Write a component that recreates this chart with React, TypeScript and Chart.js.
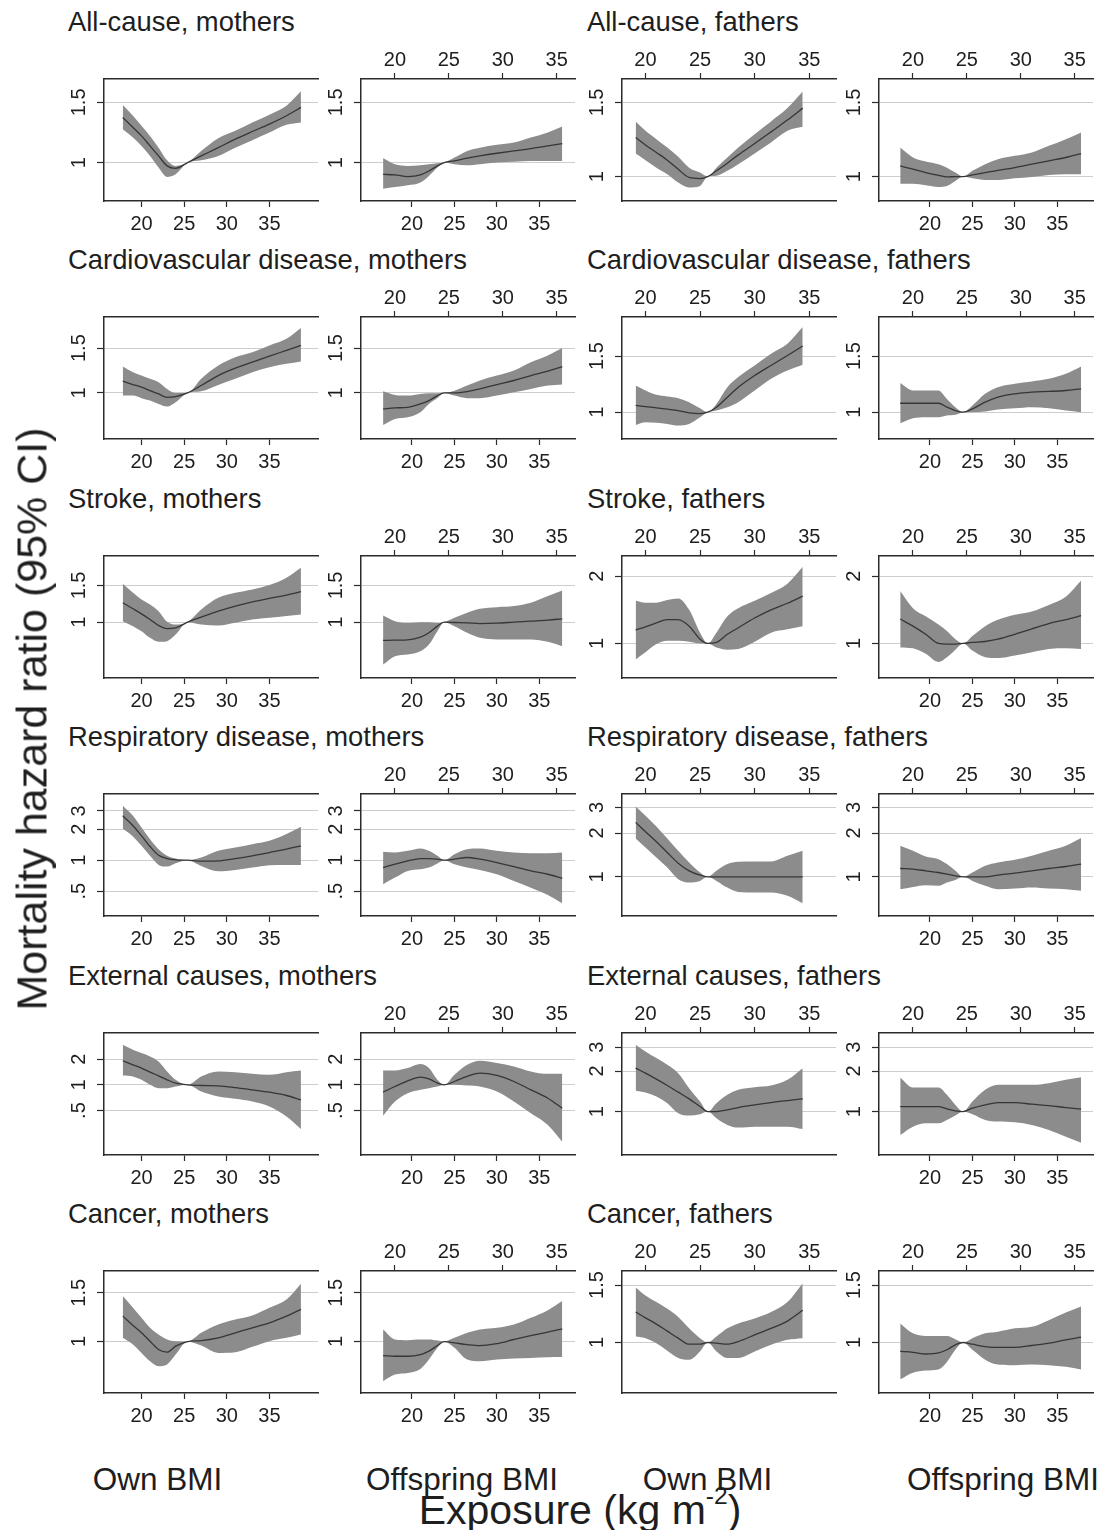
import React, { useEffect, useRef } from "react";
import { Chart, registerables } from "chart.js";

Chart.register(...registerables);

const FONT = '"Liberation Sans", Arial, Helvetica, sans-serif';
const TEXT = "#1e1e1e";
const AXIS = "#2b2b2b";
const GRID = "#cdcdcd";
const BAND = "#8c8c8c";
const LINE = "#363636";

// ---------- x values (BMI, kg/m2) for each column ----------
const motherOwnBMI = [17.8, 19, 20, 21, 22, 23, 24, 25.4, 27, 29, 31, 33, 35, 37, 38.7];
const motherOffspringBMI = [16.6, 18, 19.5, 21, 22, 23, 23.8, 25, 26.5, 28, 30, 32, 34, 36, 37.7];
const fatherOwnBMI = [19.1, 20, 21, 22, 23, 24, 25, 25.7, 26.5, 27.5, 28.5, 30, 31.5, 33, 34.4];
const fatherOffspringBMI = [16.5, 18, 19.5, 21, 22, 23, 23.9, 25, 26.5, 28, 30, 32, 34, 36, 37.8];

const xTickValues = [20, 25, 30, 35];

// ---------- y tick sets ----------
const ticks1_15 = [1, 1.5];
const labels1_15 = ["1", "1.5"];
const ticks1_2 = [1, 2];
const labels1_2 = ["1", "2"];
const ticks05_3 = [0.5, 1, 2, 3];
const labels05_3 = [".5", "1", "2", "3"];
const ticks1_3 = [1, 2, 3];
const labels1_3 = ["1", "2", "3"];
const ticks05_2 = [0.5, 1, 2];
const labels05_2 = [".5", "1", "2"];

const causes = ["All-cause", "Cardiovascular disease", "Stroke", "Respiratory disease", "External causes", "Cancer"];

// ---------- hazard ratios ----------
// All-cause
const acMoOwnEst = [1.355, 1.267, 1.197, 1.119, 1.046, 0.978, 0.962, 1, 1.046, 1.106, 1.171, 1.233, 1.296, 1.371, 1.45];
const acMoOwnHi = [1.473, 1.371, 1.281, 1.197, 1.106, 1.016, 0.978, 1, 1.082, 1.179, 1.239, 1.31, 1.38, 1.467, 1.616];
const acMoOwnLo = [1.252, 1.184, 1.119, 1.046, 0.967, 0.908, 0.924, 1, 1.016, 1.046, 1.106, 1.163, 1.225, 1.29, 1.31];
const acMoOffEst = [0.924, 0.92, 0.91, 0.92, 0.945, 0.978, 1, 1.011, 1.03, 1.046, 1.065, 1.082, 1.099, 1.119, 1.137];
const acMoOffHi = [1.03, 0.989, 0.978, 0.982, 0.989, 0.996, 1, 1.034, 1.082, 1.106, 1.127, 1.145, 1.184, 1.225, 1.275];
const acMoOffLo = [0.839, 0.848, 0.858, 0.874, 0.914, 0.967, 1, 0.989, 0.982, 0.989, 1.0, 1.005, 1.011, 1.011, 1.011];
const acFaOwnEst = [1.238, 1.189, 1.141, 1.094, 1.041, 0.995, 0.989, 1, 1.032, 1.076, 1.126, 1.198, 1.277, 1.362, 1.454];
const acFaOwnHi = [1.352, 1.284, 1.227, 1.172, 1.114, 1.05, 1.022, 1, 1.05, 1.11, 1.172, 1.261, 1.352, 1.454, 1.593];
const acFaOwnLo = [1.134, 1.094, 1.05, 1.013, 0.968, 0.942, 0.95, 1, 1.004, 1.032, 1.07, 1.134, 1.205, 1.284, 1.313];
const acFaOffEst = [1.06, 1.041, 1.022, 1.007, 0.998, 1, 1, 1.009, 1.022, 1.035, 1.05, 1.07, 1.09, 1.11, 1.134];
const acFaOffHi = [1.172, 1.11, 1.086, 1.07, 1.05, 1.022, 1, 1.032, 1.07, 1.1, 1.12, 1.141, 1.183, 1.227, 1.273];
const acFaOffLo = [0.962, 0.962, 0.954, 0.945, 0.95, 0.976, 1, 0.991, 0.982, 0.982, 0.991, 0.998, 1.009, 1.013, 1.013];
// Cardiovascular disease
const cvMoOwnEst = [1.112, 1.079, 1.053, 1.021, 0.991, 0.961, 0.967, 1, 1.069, 1.17, 1.251, 1.321, 1.395, 1.469, 1.537];
const cvMoOwnHi = [1.27, 1.206, 1.17, 1.136, 1.102, 1.037, 1.0, 1, 1.136, 1.282, 1.382, 1.446, 1.537, 1.632, 1.798];
const cvMoOwnLo = [0.976, 0.976, 0.953, 0.933, 0.905, 0.884, 0.919, 1, 1.015, 1.075, 1.136, 1.206, 1.262, 1.301, 1.329];
const cvMoOffEst = [0.865, 0.873, 0.878, 0.905, 0.933, 0.976, 1, 1, 1.012, 1.037, 1.079, 1.119, 1.17, 1.217, 1.27];
const cvMoOffHi = [1.015, 0.982, 0.976, 0.991, 0.997, 0.998, 1, 1.021, 1.069, 1.119, 1.17, 1.225, 1.321, 1.404, 1.5];
const cvMoOffLo = [0.748, 0.79, 0.802, 0.839, 0.905, 0.955, 1, 0.976, 0.953, 0.953, 0.976, 1.006, 1.037, 1.069, 1.079];
const cvFaOwnEst = [1.05, 1.042, 1.032, 1.022, 1.012, 0.995, 0.99, 1, 1.037, 1.115, 1.198, 1.304, 1.402, 1.507, 1.613];
const cvFaOwnHi = [1.213, 1.17, 1.134, 1.12, 1.107, 1.075, 1.029, 1, 1.062, 1.198, 1.289, 1.402, 1.526, 1.64, 1.851];
const cvFaOwnLo = [0.912, 0.93, 0.926, 0.919, 0.908, 0.919, 0.964, 1, 1.012, 1.037, 1.075, 1.17, 1.273, 1.352, 1.409];
const cvFaOffEst = [1.067, 1.067, 1.067, 1.067, 1.037, 1.012, 1, 1.024, 1.075, 1.115, 1.142, 1.156, 1.162, 1.17, 1.184];
const cvFaOffHi = [1.234, 1.17, 1.17, 1.17, 1.101, 1.037, 1, 1.05, 1.142, 1.198, 1.228, 1.249, 1.273, 1.32, 1.392];
const cvFaOffLo = [0.923, 0.957, 0.964, 0.964, 0.976, 0.981, 1, 1.0, 1.005, 1.019, 1.029, 1.037, 1.029, 1.012, 1.0];
// Stroke
const stMoOwnEst = [1.238, 1.159, 1.096, 1.03, 0.964, 0.932, 0.939, 1, 1.057, 1.129, 1.194, 1.252, 1.299, 1.348, 1.399];
const stMoOwnHi = [1.528, 1.383, 1.285, 1.216, 1.129, 1.004, 0.974, 1, 1.15, 1.309, 1.383, 1.435, 1.506, 1.633, 1.824];
const stMoOwnLo = [1.011, 0.957, 0.905, 0.841, 0.805, 0.811, 0.872, 1, 0.974, 0.964, 0.993, 1.03, 1.049, 1.069, 1.089];
const stMoOffEst = [0.817, 0.82, 0.823, 0.847, 0.889, 0.957, 1, 0.996, 0.993, 0.985, 0.989, 1, 1.011, 1.022, 1.038];
const stMoOffHi = [1.077, 1.011, 0.99, 1.0, 1.0, 0.99, 1, 1.049, 1.109, 1.159, 1.18, 1.194, 1.238, 1.333, 1.419];
const stMoOffLo = [0.626, 0.687, 0.7, 0.726, 0.781, 0.905, 1, 0.957, 0.889, 0.841, 0.826, 0.826, 0.826, 0.805, 0.767];
const stFaOwnEst = [1.148, 1.187, 1.236, 1.278, 1.278, 1.195, 1.045, 1, 1.01, 1.099, 1.175, 1.3, 1.414, 1.513, 1.629];
const stFaOwnHi = [1.554, 1.523, 1.523, 1.564, 1.591, 1.414, 1.117, 1, 1.117, 1.322, 1.438, 1.554, 1.684, 1.851, 2.205];
const stFaOwnLo = [0.848, 0.913, 0.993, 1.027, 1.027, 1.017, 1.0, 1, 0.96, 0.938, 0.944, 1.017, 1.117, 1.156, 1.195];
const stFaOffEst = [1.287, 1.195, 1.099, 1.0, 0.993, 0.993, 1, 1.01, 1.02, 1.045, 1.099, 1.163, 1.228, 1.278, 1.331];
const stFaOffHi = [1.719, 1.438, 1.322, 1.216, 1.137, 1.045, 1, 1.08, 1.195, 1.278, 1.345, 1.391, 1.488, 1.618, 1.914];
const stFaOffLo = [0.96, 0.951, 0.898, 0.826, 0.868, 0.938, 1, 0.929, 0.868, 0.86, 0.883, 0.913, 0.944, 0.951, 0.944];
// Respiratory disease
const reMoOwnEst = [2.7, 2.156, 1.724, 1.358, 1.118, 1.038, 1.008, 1, 0.978, 0.985, 1.038, 1.102, 1.187, 1.279, 1.378];
const reMoOwnHi = [3.37, 2.7, 2.077, 1.6, 1.279, 1.102, 1.038, 1, 1.062, 1.232, 1.328, 1.431, 1.542, 1.79, 2.108];
const reMoOwnLo = [2.031, 1.699, 1.378, 1.102, 0.901, 0.868, 0.935, 1, 0.881, 0.782, 0.805, 0.849, 0.894, 0.901, 0.901];
const reMoOffEst = [0.849, 0.914, 0.985, 1.038, 1.038, 1.023, 1, 1.023, 1.062, 1.023, 0.949, 0.868, 0.788, 0.731, 0.668];
const reMoOffHi = [1.205, 1.187, 1.232, 1.298, 1.232, 1.102, 1, 1.144, 1.279, 1.298, 1.232, 1.187, 1.17, 1.17, 1.187];
const reMoOffLo = [0.584, 0.678, 0.788, 0.817, 0.849, 0.928, 1, 0.914, 0.849, 0.805, 0.731, 0.629, 0.542, 0.46, 0.382];
const reFaOwnEst = [2.367, 2.043, 1.743, 1.471, 1.242, 1.1, 1.027, 1, 1, 1, 1, 1, 1, 1, 1];
const reFaOwnHi = [3.05, 2.634, 2.222, 1.838, 1.511, 1.255, 1.071, 1, 1.1, 1.223, 1.269, 1.276, 1.276, 1.395, 1.511];
const reFaOwnLo = [1.838, 1.593, 1.359, 1.16, 0.964, 0.914, 0.938, 1, 0.938, 0.844, 0.788, 0.78, 0.78, 0.74, 0.658];
const reFaOffEst = [1.141, 1.129, 1.1, 1.071, 1.043, 1.016, 1, 1, 1, 1.027, 1.06, 1.1, 1.141, 1.178, 1.223];
const reFaOffHi = [1.636, 1.511, 1.381, 1.323, 1.223, 1.1, 1, 1.071, 1.191, 1.255, 1.31, 1.395, 1.511, 1.636, 1.847];
const reFaOffLo = [0.822, 0.853, 0.876, 0.867, 0.914, 0.953, 1, 0.938, 0.867, 0.822, 0.831, 0.844, 0.831, 0.822, 0.801];
// External causes
const exMoOwnEst = [1.913, 1.716, 1.569, 1.408, 1.275, 1.145, 1.046, 1, 0.982, 0.973, 0.93, 0.874, 0.82, 0.75, 0.667];
const exMoOwnHi = [2.948, 2.577, 2.353, 2.15, 1.878, 1.434, 1.145, 1, 1.253, 1.434, 1.408, 1.346, 1.31, 1.408, 1.473];
const exMoOwnLo = [1.287, 1.253, 1.145, 1.0, 0.914, 0.914, 0.956, 1, 0.835, 0.73, 0.685, 0.637, 0.557, 0.425, 0.304];
const exMoOffEst = [0.82, 0.956, 1.114, 1.23, 1.176, 1.046, 1, 1.094, 1.253, 1.371, 1.287, 1.094, 0.874, 0.697, 0.532];
const exMoOffHi = [1.473, 1.473, 1.569, 1.748, 1.569, 1.145, 1, 1.31, 1.716, 1.913, 1.796, 1.642, 1.434, 1.346, 1.346];
const exMoOffLo = [0.436, 0.637, 0.798, 0.874, 0.914, 0.956, 1, 1.0, 0.982, 0.956, 0.835, 0.637, 0.465, 0.339, 0.216];
const exFaOwnEst = [2.101, 1.929, 1.741, 1.561, 1.393, 1.242, 1.089, 1, 1, 1.029, 1.071, 1.121, 1.167, 1.207, 1.242];
const exFaOwnHi = [3.136, 2.797, 2.495, 2.226, 1.929, 1.492, 1.187, 1, 1.154, 1.331, 1.45, 1.517, 1.561, 1.72, 2.101];
const exFaOwnLo = [1.426, 1.385, 1.293, 1.154, 0.972, 0.934, 0.955, 1, 0.892, 0.796, 0.76, 0.773, 0.773, 0.773, 0.743];
const exFaOffEst = [1.089, 1.089, 1.089, 1.089, 1.047, 1.011, 1, 1.059, 1.121, 1.167, 1.167, 1.134, 1.108, 1.071, 1.041];
const exFaOffHi = [1.791, 1.509, 1.509, 1.509, 1.331, 1.121, 1, 1.187, 1.45, 1.58, 1.58, 1.58, 1.626, 1.72, 1.801];
const exFaOffLo = [0.67, 0.773, 0.819, 0.819, 0.867, 0.934, 1, 0.955, 0.867, 0.843, 0.833, 0.796, 0.73, 0.651, 0.588];
// Cancer
const caMoOwnEst = [1.235, 1.143, 1.075, 1.003, 0.936, 0.915, 0.962, 1, 1.008, 1.031, 1.075, 1.121, 1.168, 1.235, 1.306];
const caMoOwnHi = [1.459, 1.324, 1.218, 1.121, 1.06, 1.017, 1.003, 1, 1.075, 1.152, 1.201, 1.242, 1.324, 1.419, 1.617];
const caMoOwnLo = [1.031, 0.975, 0.91, 0.849, 0.814, 0.826, 0.897, 1, 0.967, 0.91, 0.915, 0.957, 1.003, 1.031, 1.06];
const caMoOffEst = [0.89, 0.885, 0.885, 0.897, 0.923, 0.967, 1, 0.989, 0.975, 0.967, 0.983, 1.017, 1.051, 1.081, 1.111];
const caMoOffHi = [1.105, 1.017, 1.011, 1.017, 1.017, 1.008, 1, 1.031, 1.075, 1.105, 1.121, 1.152, 1.218, 1.298, 1.4];
const caMoOffLo = [0.719, 0.76, 0.77, 0.796, 0.861, 0.949, 1, 0.949, 0.861, 0.849, 0.861, 0.868, 0.873, 0.878, 0.88];
const caFaOwnEst = [1.24, 1.19, 1.139, 1.084, 1.031, 0.988, 0.988, 1, 0.995, 0.988, 1.007, 1.055, 1.105, 1.163, 1.255];
const caFaOwnHi = [1.476, 1.393, 1.33, 1.269, 1.198, 1.105, 1.031, 1, 1.043, 1.105, 1.144, 1.184, 1.24, 1.33, 1.521];
const caFaOwnLo = [1.043, 1.031, 0.995, 0.944, 0.897, 0.886, 0.939, 1, 0.939, 0.897, 0.897, 0.939, 0.984, 1.019, 1.031];
const caFaOffEst = [0.939, 0.933, 0.922, 0.929, 0.95, 0.984, 1, 0.988, 0.972, 0.966, 0.966, 0.979, 0.995, 1.019, 1.038];
const caFaOffHi = [1.144, 1.067, 1.047, 1.047, 1.047, 1.023, 1, 1.031, 1.067, 1.079, 1.105, 1.117, 1.171, 1.235, 1.29];
const caFaOffLo = [0.771, 0.808, 0.821, 0.827, 0.872, 0.95, 1, 0.95, 0.886, 0.856, 0.852, 0.856, 0.852, 0.842, 0.827];

// ---------- layout ----------
const FRAME_W = 214;
const FRAME_H = 122;
const PAD_L = 50;
const PAD_T = 40;
const PAD_B = 40;
const PAD_R = 6;
const ROW_STEP = 238.5;
const FRAME_TOP0 = 78.5;
const TITLE_Y0 = 21.5;

type Col = {
  left: number;
  xs: number[];
  dataOnTop: boolean;
  bottom: [number, number];
  top: [number, number];
  showBottom: boolean;
  showTop: boolean;
};

const COLS: Col[] = [
  { left: 104, xs: motherOwnBMI, dataOnTop: false, bottom: [15.6, 40.7], top: [15.6, 40.7], showBottom: true, showTop: false },
  { left: 361, xs: motherOffspringBMI, dataOnTop: false, bottom: [14.0, 39.2], top: [16.85, 36.7], showBottom: true, showTop: true },
  { left: 622, xs: fatherOwnBMI, dataOnTop: true, bottom: [17.85, 37.45], top: [17.85, 37.45], showBottom: false, showTop: true },
  { left: 879, xs: fatherOffspringBMI, dataOnTop: false, bottom: [14.0, 39.2], top: [16.85, 36.7], showBottom: true, showTop: true },
];

type Panel = {
  row: number;
  col: number;
  est: number[];
  lo: number[];
  hi: number[];
  yMin: number;
  yMax: number;
  yTicks: number[];
  yLabels: string[];
};

const P = (row: number, col: number, est: number[], lo: number[], hi: number[], yMin: number, yMax: number, yTicks: number[], yLabels: string[]): Panel => ({ row, col, est, lo, hi, yMin, yMax, yTicks, yLabels });

const PANELS: Panel[] = [
  P(0, 0, acMoOwnEst, acMoOwnLo, acMoOwnHi, 0.772, 1.756, ticks1_15, labels1_15),
  P(0, 1, acMoOffEst, acMoOffLo, acMoOffHi, 0.772, 1.756, ticks1_15, labels1_15),
  P(0, 2, acFaOwnEst, acFaOwnLo, acFaOwnHi, 0.875, 1.705, ticks1_15, labels1_15),
  P(0, 3, acFaOffEst, acFaOffLo, acFaOffHi, 0.875, 1.705, ticks1_15, labels1_15),
  P(1, 0, cvMoOwnEst, cvMoOwnLo, cvMoOwnHi, 0.659, 1.988, ticks1_15, labels1_15),
  P(1, 1, cvMoOffEst, cvMoOffLo, cvMoOffHi, 0.659, 1.988, ticks1_15, labels1_15),
  P(1, 2, cvFaOwnEst, cvFaOwnLo, cvFaOwnHi, 0.824, 1.99, ticks1_15, labels1_15),
  P(1, 3, cvFaOffEst, cvFaOffLo, cvFaOffHi, 0.824, 1.99, ticks1_15, labels1_15),
  P(2, 0, stMoOwnEst, stMoOwnLo, stMoOwnHi, 0.54, 2.075, ticks1_15, labels1_15),
  P(2, 1, stMoOffEst, stMoOffLo, stMoOffHi, 0.54, 2.075, ticks1_15, labels1_15),
  P(2, 2, stFaOwnEst, stFaOwnLo, stFaOwnHi, 0.722, 2.464, ticks1_2, labels1_2),
  P(2, 3, stFaOffEst, stFaOffLo, stFaOffHi, 0.722, 2.464, ticks1_2, labels1_2),
  P(3, 0, reMoOwnEst, reMoOwnLo, reMoOwnHi, 0.288, 4.38, ticks05_3, labels05_3),
  P(3, 1, reMoOffEst, reMoOffLo, reMoOffHi, 0.288, 4.38, ticks05_3, labels05_3),
  P(3, 2, reFaOwnEst, reFaOwnLo, reFaOwnHi, 0.538, 3.71, ticks1_3, labels1_3),
  P(3, 3, reFaOffEst, reFaOffLo, reFaOffHi, 0.538, 3.71, ticks1_3, labels1_3),
  P(4, 0, exMoOwnEst, exMoOwnLo, exMoOwnHi, 0.151, 4.04, ticks05_2, labels05_2),
  P(4, 1, exMoOffEst, exMoOffLo, exMoOffHi, 0.151, 4.04, ticks05_2, labels05_2),
  P(4, 2, exFaOwnEst, exFaOwnLo, exFaOwnHi, 0.476, 3.83, ticks1_3, labels1_3),
  P(4, 3, exFaOffEst, exFaOffLo, exFaOffHi, 0.476, 3.83, ticks1_3, labels1_3),
  P(5, 0, caMoOwnEst, caMoOwnLo, caMoOwnHi, 0.652, 1.797, ticks1_15, labels1_15),
  P(5, 1, caMoOffEst, caMoOffLo, caMoOffHi, 0.652, 1.797, ticks1_15, labels1_15),
  P(5, 2, caFaOwnEst, caFaOwnLo, caFaOwnHi, 0.711, 1.657, ticks1_15, labels1_15),
  P(5, 3, caFaOffEst, caFaOffLo, caFaOffHi, 0.711, 1.657, ticks1_15, labels1_15),
];

function makeLabelPlugin(p: Panel, col: Col) {
  return {
    id: "panelLabels",
    afterDraw(chart: any) {
      const ctx = chart.ctx;
      const area = chart.chartArea;
      ctx.save();
      ctx.fillStyle = TEXT;
      ctx.font = `20px ${FONT}`;
      ctx.textAlign = "center";
      ctx.textBaseline = "middle";
      const ys = chart.scales.y;
      p.yTicks.forEach((v, i) => {
        const py = ys.getPixelForValue(v);
        ctx.save();
        ctx.translate(area.left - 25, py);
        ctx.rotate(-Math.PI / 2);
        ctx.fillText(p.yLabels[i], 0, 0);
        ctx.restore();
      });
      if (col.showBottom) {
        const xs = chart.scales.x;
        xTickValues.forEach((v) => ctx.fillText(String(v), xs.getPixelForValue(v), area.bottom + 23));
      }
      if (col.showTop) {
        const xt = chart.scales.xt;
        xTickValues.forEach((v) => ctx.fillText(String(v), xt.getPixelForValue(v), area.top - 19));
      }
      ctx.restore();
    },
  };
}

function xAxis(position: "bottom" | "top", range: [number, number], show: boolean, size: number) {
  return {
    type: "linear",
    position,
    min: range[0],
    max: range[1],
    afterBuildTicks: (s: any) => {
      s.ticks = show ? xTickValues.map((v) => ({ value: v })) : [];
    },
    afterFit: (s: any) => {
      s.height = size;
    },
    ticks: { display: false },
    grid: { display: show, drawOnChartArea: false, drawTicks: true, tickLength: 6, tickColor: AXIS, tickWidth: 1.2 },
    border: { display: true, color: AXIS, width: 1.5 },
  };
}

function PanelChart({ p }: { p: Panel }) {
  const ref = useRef<HTMLCanvasElement | null>(null);
  const col = COLS[p.col];
  const frameTop = Math.round(FRAME_TOP0 + ROW_STEP * p.row);
  const W = PAD_L + FRAME_W + PAD_R;
  const H = PAD_T + FRAME_H + PAD_B;

  useEffect(() => {
    if (!ref.current) return;
    const axisId = col.dataOnTop ? "xt" : "x";
    const pts = (arr: number[]) => arr.map((y, i) => ({ x: col.xs[i], y }));
    const common = { xAxisID: axisId, yAxisID: "y", pointRadius: 0, pointHoverRadius: 0, cubicInterpolationMode: "monotone" };
    const chart = new Chart(ref.current, {
      type: "line",
      data: {
        datasets: [
          { ...common, data: pts(p.hi), borderColor: "rgba(0,0,0,0)", borderWidth: 0, backgroundColor: BAND, fill: "+1", order: 2 },
          { ...common, data: pts(p.lo), borderColor: "rgba(0,0,0,0)", borderWidth: 0, fill: false, order: 3 },
          { ...common, data: pts(p.est), borderColor: LINE, borderWidth: 1.3, fill: false, order: 0 },
        ],
      } as any,
      options: {
        responsive: false,
        maintainAspectRatio: false,
        animation: false,
        events: [],
        layout: { padding: { left: 0, right: PAD_R, top: 0, bottom: 0 } },
        plugins: { legend: { display: false }, tooltip: { enabled: false }, title: { display: false } },
        scales: {
          x: xAxis("bottom", col.bottom, col.showBottom, PAD_B),
          xt: xAxis("top", col.top, col.showTop, PAD_T),
          y: {
            type: "logarithmic",
            position: "left",
            min: p.yMin,
            max: p.yMax,
            afterBuildTicks: (s: any) => {
              s.ticks = p.yTicks.map((v) => ({ value: v }));
            },
            afterFit: (s: any) => {
              s.width = PAD_L;
            },
            ticks: { display: false },
            grid: { color: GRID, lineWidth: 1, drawOnChartArea: true, drawTicks: true, tickLength: 7, tickColor: AXIS, tickWidth: 1.2 },
            border: { display: true, color: AXIS, width: 1.5 },
          },
        },
      } as any,
      plugins: [makeLabelPlugin(p, col)],
    } as any);
    return () => chart.destroy();
  }, []);

  return (
    <canvas
      ref={ref}
      width={W}
      height={H}
      style={{ position: "absolute", left: col.left - PAD_L, top: frameTop - PAD_T, width: W, height: H }}
    />
  );
}

const textBase: React.CSSProperties = {
  position: "absolute",
  whiteSpace: "nowrap",
  lineHeight: 1,
  fontFamily: FONT,
  color: TEXT,
};

export default function App() {
  return (
    <div style={{ position: "absolute", left: 0, top: 0, width: 1108, height: 1530, background: "#ffffff", overflow: "hidden" }}>
      {causes.map((c, i) => (
        <React.Fragment key={c}>
          <div style={{ ...textBase, left: 68, top: TITLE_Y0 + ROW_STEP * i, transform: "translateY(-50%)", fontSize: 27.4 }}>{`${c}, mothers`}</div>
          <div style={{ ...textBase, left: 587, top: TITLE_Y0 + ROW_STEP * i, transform: "translateY(-50%)", fontSize: 27.4 }}>{`${c}, fathers`}</div>
        </React.Fragment>
      ))}
      {PANELS.map((p, i) => (
        <PanelChart key={i} p={p} />
      ))}
      <div style={{ ...textBase, left: 32, top: 719, transform: "translate(-50%, -50%) rotate(-90deg)", fontSize: 43 }}>
        Mortality hazard ratio (95% CI)
      </div>
      <div style={{ ...textBase, left: 157.5, top: 1480, transform: "translate(-50%, -50%)", fontSize: 31.5 }}>Own BMI</div>
      <div style={{ ...textBase, left: 462, top: 1480, transform: "translate(-50%, -50%)", fontSize: 31.5 }}>Offspring BMI</div>
      <div style={{ ...textBase, left: 707.5, top: 1480, transform: "translate(-50%, -50%)", fontSize: 31.5 }}>Own BMI</div>
      <div style={{ ...textBase, left: 1003, top: 1480, transform: "translate(-50%, -50%)", fontSize: 31.5 }}>Offspring BMI</div>
      <div style={{ ...textBase, left: 580, top: 1510, transform: "translate(-50%, -50%)", fontSize: 41 }}>
        Exposure (kg m<span style={{ fontSize: "0.6em", position: "relative", top: "-0.8em" }}>-2</span>)
      </div>
    </div>
  );
}
